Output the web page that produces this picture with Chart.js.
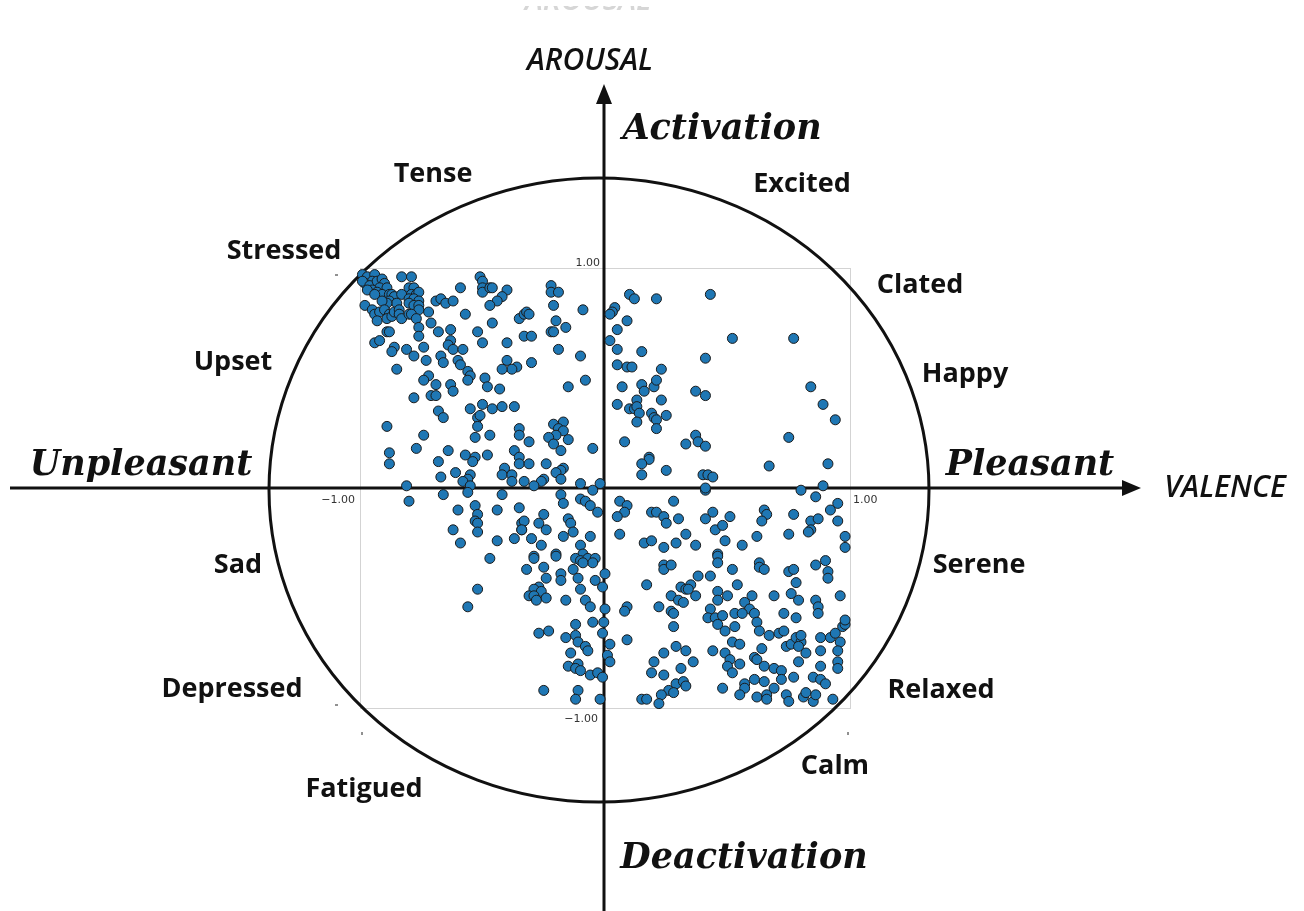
<!DOCTYPE html>
<html>
<head>
<meta charset="utf-8">
<script src="https://cdn.jsdelivr.net/npm/chart.js@4.4.0/dist/chart.umd.min.js"></script>
<style>
  html, body { margin: 0; padding: 0; background: #fff; }
  #wrap { width: 1304px; height: 911px; }
</style>
</head>
<body>
<div id="wrap"><canvas id="chart" width="1304" height="911"></canvas></div>
<script>
// valence / arousal ratings, grouped by quadrant
const upperLeft = [
  [-0.99,0.97],[-0.97,0.96],[-0.94,0.97],[-0.95,0.94],[-0.98,0.93],[-0.99,0.94],[-0.96,0.92],[-0.93,0.94],[-0.91,0.95],[-0.90,0.93],
  [-0.92,0.91],[-0.95,0.90],[-0.97,0.90],[-0.89,0.91],[-0.93,0.89],[-0.91,0.88],[-0.94,0.88],[-0.88,0.88],[-0.87,0.88],[-0.86,0.87],
  [-0.83,0.88],[-0.88,0.85],[-0.85,0.84],[-0.89,0.84],[-0.91,0.85],[-0.98,0.83],[-0.95,0.81],[-0.94,0.79],[-0.92,0.80],[-0.93,0.76],
  [-0.90,0.81],[-0.88,0.79],[-0.89,0.77],[-0.87,0.78],[-0.86,0.80],[-0.84,0.81],[-0.84,0.79],[-0.83,0.77],[-0.80,0.91],[-0.78,0.91],
  [-0.79,0.88],[-0.77,0.88],[-0.76,0.89],[-0.80,0.86],[-0.78,0.86],[-0.76,0.85],[-0.80,0.84],[-0.78,0.83],[-0.76,0.83],[-0.76,0.81],
  [-0.80,0.79],[-0.79,0.79],[-0.77,0.77],[-0.76,0.73],[-0.72,0.80],[-0.71,0.75],[-0.76,0.69],[-0.69,0.85],[-0.67,0.86],[-0.65,0.84],
  [-0.62,0.85],[-0.59,0.91],[-0.57,0.79],[-0.83,0.96],[-0.79,0.96],[-0.51,0.96],[-0.50,0.94],[-0.50,0.91],[-0.50,0.89],[-0.47,0.91],
  [-0.46,0.91],[-0.40,0.90],[-0.42,0.87],[-0.44,0.85],[-0.47,0.83],[-0.35,0.77],[-0.33,0.79],[-0.46,0.75],[-0.52,0.71],[-0.50,0.66],
  [-0.40,0.66],[-0.68,0.71],[-0.63,0.72],[-0.63,0.67],[-0.64,0.65],[-0.62,0.63],[-0.58,0.63],[-0.74,0.64],[-0.81,0.63],[-0.86,0.64],
  [-0.87,0.62],[-0.94,0.66],[-0.92,0.67],[-0.89,0.71],[-0.88,0.71],[-0.78,0.60],[-0.73,0.58],[-0.67,0.60],[-0.66,0.57],[-0.60,0.58],
  [-0.59,0.56],[-0.56,0.53],[-0.55,0.51],[-0.56,0.49],[-0.49,0.50],[-0.48,0.46],[-0.43,0.45],[-0.40,0.58],[-0.36,0.55],[-0.38,0.54],
  [-0.42,0.54],[-0.72,0.51],[-0.74,0.49],[-0.69,0.47],[-0.63,0.47],[-0.62,0.44],[-0.85,0.54],[-0.78,0.41],[-0.71,0.42],[-0.69,0.42],
  [-0.22,0.92],[-0.22,0.89],[-0.19,0.89],[-0.21,0.83],[-0.09,0.81],[-0.32,0.80],[-0.31,0.79],[-0.20,0.76],[-0.16,0.73],[-0.22,0.71],
  [-0.21,0.71],[-0.33,0.69],[-0.30,0.69],[-0.19,0.63],[-0.10,0.60],[-0.30,0.57],[-0.08,0.49],[-0.15,0.46],
  [-0.68,0.35],[-0.66,0.32],[-0.55,0.36],[-0.52,0.32],[-0.51,0.33],[-0.52,0.28],[-0.46,0.36],[-0.50,0.38],[-0.42,0.37],[-0.37,0.37],
  [-0.89,0.28],[-0.74,0.24],[-0.53,0.23],[-0.47,0.24],[-0.35,0.27],[-0.35,0.24],[-0.77,0.18],[-0.64,0.17],[-0.88,0.16],[-0.88,0.11],
  [-0.68,0.12],[-0.57,0.15],[-0.53,0.14],[-0.54,0.12],[-0.48,0.15],[-0.37,0.17],[-0.35,0.14],[-0.35,0.11],[-0.41,0.09],[-0.42,0.06],
  [-0.38,0.06],[-0.38,0.03],[-0.33,0.03],[-0.67,0.05],[-0.61,0.07],[-0.55,0.06],[-0.56,0.04],[-0.58,0.03],[-0.55,0.01],[-0.81,0.01],
  [-0.31,0.21],[-0.21,0.29],[-0.17,0.30],[-0.19,0.27],[-0.17,0.26],[-0.20,0.24],[-0.23,0.23],[-0.15,0.22],[-0.21,0.20],[-0.18,0.17],
  [-0.05,0.18],[-0.31,0.11],[-0.24,0.11],[-0.17,0.09],[-0.18,0.08],[-0.20,0.07],[-0.18,0.04],[-0.25,0.04],[-0.26,0.03],[-0.29,0.01],
  [-0.10,0.02],[-0.02,0.02]
];

const upperRight = [
  [0.10,0.88],[0.12,0.86],[0.21,0.86],[0.04,0.82],[0.03,0.80],[0.02,0.79],[0.09,0.76],[0.05,0.72],[0.02,0.67],[0.05,0.63],
  [0.15,0.62],[0.05,0.56],[0.09,0.55],[0.11,0.55],[0.23,0.54],[0.07,0.46],[0.15,0.47],[0.16,0.44],[0.20,0.46],[0.21,0.49],
  [0.05,0.38],[0.13,0.40],[0.23,0.40],
  [0.43,0.88],[0.52,0.68],[0.77,0.68],[0.41,0.59],[0.37,0.44],[0.41,0.42],[0.84,0.46],[0.89,0.38],
  [0.10,0.36],[0.12,0.36],[0.13,0.37],[0.14,0.34],[0.19,0.34],[0.20,0.32],[0.21,0.31],[0.25,0.33],[0.13,0.30],[0.21,0.27],
  [0.08,0.21],[0.33,0.20],[0.18,0.14],[0.18,0.13],[0.15,0.11],[0.15,0.06],[0.25,0.08],
  [0.94,0.31],[0.37,0.24],[0.38,0.21],[0.41,0.19],[0.75,0.23],[0.67,0.10],[0.91,0.11],[0.40,0.06],[0.42,0.06],[0.44,0.05],
  [0.89,0.01]
];

const lowerLeft = [
  [-0.80,-0.06],[-0.66,-0.03],[-0.56,-0.02],[-0.42,-0.03],[-0.60,-0.10],[-0.53,-0.08],[-0.52,-0.12],[-0.53,-0.15],[-0.52,-0.16],[-0.52,-0.20],
  [-0.44,-0.10],[-0.35,-0.09],[-0.34,-0.16],[-0.34,-0.19],[-0.62,-0.19],[-0.59,-0.25],[-0.44,-0.24],[-0.37,-0.23],[-0.47,-0.32],
  [-0.05,-0.01],[-0.18,-0.03],[-0.17,-0.07],[-0.10,-0.05],[-0.08,-0.06],[-0.06,-0.08],[-0.03,-0.11],[-0.33,-0.15],[-0.34,-0.19],[-0.25,-0.12],
  [-0.27,-0.16],[-0.24,-0.19],[-0.15,-0.14],[-0.14,-0.16],[-0.13,-0.20],[-0.30,-0.23],[-0.17,-0.22],[-0.06,-0.22],[-0.26,-0.26],[-0.20,-0.30],
  [-0.29,-0.31],[-0.10,-0.26],[-0.09,-0.30],
  [-0.52,-0.46],[-0.56,-0.54],
  [-0.29,-0.32],[-0.20,-0.31],[-0.12,-0.32],[-0.10,-0.33],[-0.07,-0.32],[-0.04,-0.32],[-0.05,-0.34],[-0.09,-0.34],[-0.32,-0.37],[-0.25,-0.36],
  [-0.18,-0.39],[-0.18,-0.42],[-0.13,-0.37],[-0.11,-0.41],[-0.24,-0.41],[-0.04,-0.42],[-0.01,-0.45],[-0.27,-0.45],[-0.29,-0.46],[-0.26,-0.47],
  [-0.31,-0.49],[-0.29,-0.49],[-0.28,-0.51],[-0.24,-0.50],[-0.16,-0.51],[-0.10,-0.46],[-0.08,-0.51],[-0.06,-0.54],[-0.12,-0.62],[-0.05,-0.61],
  [-0.27,-0.66],[-0.23,-0.65],[-0.16,-0.68],[-0.12,-0.67],[-0.11,-0.70],[-0.08,-0.72],[-0.07,-0.74],[-0.14,-0.75],[-0.11,-0.80],[-0.15,-0.81],
  [-0.12,-0.82],[-0.10,-0.83],[-0.06,-0.85],[-0.03,-0.84],[-0.01,-0.86],[-0.25,-0.92],[-0.11,-0.92],[-0.12,-0.96],[-0.02,-0.96],[-0.01,-0.66],
  [-0.005,-0.61]
];

const lowerRight = [
  [0.06,-0.06],[0.09,-0.08],[0.08,-0.11],[0.05,-0.13],[0.19,-0.11],[0.21,-0.11],[0.24,-0.13],[0.25,-0.16],[0.28,-0.06],[0.30,-0.14],
  [0.33,-0.21],[0.06,-0.21],[0.16,-0.25],[0.19,-0.24],[0.24,-0.27],[0.29,-0.25],
  [0.41,-0.01],[0.41,0.00],[0.80,-0.01],[0.86,-0.04],[0.95,-0.07],[0.92,-0.10],[0.65,-0.10],[0.66,-0.12],[0.64,-0.15],[0.77,-0.12],
  [0.84,-0.15],[0.87,-0.14],[0.95,-0.15],[0.44,-0.11],[0.41,-0.14],[0.51,-0.13],[0.45,-0.19],[0.48,-0.17],[0.84,-0.19],[0.83,-0.20],
  [0.75,-0.21],[0.98,-0.22],[0.98,-0.27],[0.62,-0.22],[0.49,-0.24],[0.56,-0.26],[0.37,-0.26],[0.46,-0.30],
  [0.00,-0.39],[0.00,-0.55],[0.01,-0.76],[0.02,-0.79],[0.02,-0.71],
  [0.09,-0.54],[0.08,-0.56],[0.09,-0.69],[0.17,-0.44],[0.24,-0.35],[0.24,-0.37],[0.27,-0.35],[0.22,-0.54],[0.31,-0.45],[0.33,-0.46],
  [0.27,-0.49],[0.30,-0.51],[0.32,-0.52],[0.27,-0.56],[0.28,-0.57],[0.28,-0.63],[0.29,-0.72],[0.33,-0.74],[0.24,-0.75],[0.20,-0.79],
  [0.31,-0.82],[0.19,-0.84],[0.24,-0.85],[0.29,-0.89],[0.32,-0.88],[0.33,-0.90],[0.26,-0.92],[0.28,-0.93],[0.23,-0.94],[0.22,-0.98],
  [0.15,-0.96],[0.17,-0.96],
  [0.46,-0.31],[0.46,-0.34],[0.52,-0.37],[0.63,-0.34],[0.63,-0.36],[0.65,-0.37],[0.75,-0.38],[0.77,-0.37],[0.86,-0.35],[0.90,-0.33],
  [0.91,-0.38],[0.91,-0.41],[0.38,-0.40],[0.43,-0.40],[0.54,-0.44],[0.78,-0.43],[0.35,-0.44],[0.34,-0.46],[0.37,-0.49],[0.46,-0.47],
  [0.46,-0.51],[0.50,-0.49],[0.60,-0.49],[0.69,-0.49],[0.76,-0.48],[0.79,-0.51],[0.86,-0.51],[0.87,-0.54],[0.87,-0.57],[0.96,-0.49],
  [0.57,-0.52],[0.59,-0.55],[0.43,-0.55],[0.53,-0.57],[0.56,-0.57],[0.61,-0.57],[0.42,-0.59],[0.45,-0.59],[0.48,-0.58],[0.46,-0.62],
  [0.49,-0.65],[0.62,-0.61],[0.63,-0.65],[0.53,-0.63],[0.73,-0.57],[0.78,-0.59],[0.67,-0.67],[0.71,-0.66],[0.73,-0.65],[0.52,-0.70],
  [0.55,-0.71],[0.74,-0.72],[0.76,-0.71],[0.78,-0.68],[0.80,-0.70],[0.80,-0.67],[0.79,-0.72],[0.82,-0.75],[0.88,-0.68],[0.92,-0.68],
  [0.94,-0.66],[0.96,-0.70],[0.97,-0.63],[0.98,-0.62],[0.98,-0.60],[0.88,-0.74],[0.95,-0.74],[0.36,-0.79],[0.44,-0.74],[0.49,-0.75],
  [0.51,-0.78],[0.50,-0.81],[0.52,-0.84],[0.55,-0.80],[0.61,-0.77],[0.62,-0.78],[0.64,-0.73],[0.65,-0.81],[0.69,-0.82],[0.72,-0.83],
  [0.72,-0.87],[0.79,-0.79],[0.77,-0.86],[0.88,-0.81],[0.95,-0.79],[0.95,-0.82],[0.85,-0.86],[0.88,-0.87],[0.90,-0.89],[0.65,-0.88],
  [0.69,-0.91],[0.61,-0.87],[0.57,-0.89],[0.57,-0.91],[0.55,-0.94],[0.62,-0.95],[0.66,-0.94],[0.66,-0.96],[0.74,-0.94],[0.75,-0.97],
  [0.81,-0.95],[0.82,-0.93],[0.85,-0.97],[0.86,-0.94],[0.93,-0.96],[0.48,-0.91]
];

// axis range and tick labels
const axisMin = -1;
const axisMax = 1;
const tickValues = [-1, 1];

// emotion words around the circle
const moodWords = ['Tense', 'Excited', 'Stressed', 'Clated', 'Upset', 'Happy',
                   'Sad', 'Serene', 'Depressed', 'Relaxed', 'Fatigued', 'Calm'];
const poleWords = ['Activation', 'Deactivation', 'Unpleasant', 'Pleasant'];
const axisNames = ['AROUSAL', 'VALENCE'];

// where each word sits (canvas px, centre x / baseline y)
const moodPos = [[433,182],[802,192],[284,259],[920,293],[233,370],[965,382],
                 [238,573],[979,573],[232,697],[941,698],[364,797],[835,774]];
const polePos = [[722,139],[744,868],[141,475],[1030,475]];
const axisNamePos = [[590,70],[1225,497]];

const points = [...upperLeft, ...upperRight, ...lowerLeft, ...lowerRight]
  .map(([v, a]) => ({ x: v, y: a }));

const fmt = v => (v < 0 ? '\u2212' : '') + Math.abs(v).toFixed(2);

// frame, circle, arrows and words drawn round the scatter
const circumplex = {
  id: 'circumplex',
  beforeDatasetsDraw(chart) {
    const { ctx, scales: { x, y } } = chart;
    const x0 = x.getPixelForValue(axisMin), x1 = x.getPixelForValue(axisMax);
    const y0 = y.getPixelForValue(axisMax), y1 = y.getPixelForValue(axisMin);
    const cx = x.getPixelForValue(0), cy = y.getPixelForValue(0);
    ctx.save();

    // light frame of the scatter
    ctx.strokeStyle = '#d3d3d3';
    ctx.lineWidth = 1;
    ctx.strokeRect(Math.round(x0) + 0.5, Math.round(y0) + 0.5, Math.round(x1 - x0), Math.round(y1 - y0));

    // tiny tick marks of the outer axes
    ctx.strokeStyle = '#222';
    ctx.beginPath();
    ctx.moveTo(x0 + 2, y1 + 24); ctx.lineTo(x0 + 2, y1 + 27);
    ctx.moveTo(x1 - 2, y1 + 24); ctx.lineTo(x1 - 2, y1 + 27);
    ctx.moveTo(x0 - 25, y0 + 7); ctx.lineTo(x0 - 22, y0 + 7);
    ctx.moveTo(x0 - 25, y1 - 3); ctx.lineTo(x0 - 22, y1 - 3);
    ctx.stroke();

    // ellipse
    ctx.strokeStyle = '#111';
    ctx.lineWidth = 3;
    ctx.beginPath();
    ctx.ellipse(cx - 6, cy + 2, 330, 312, 0, 0, Math.PI * 2);
    ctx.stroke();

    // valence and arousal axes + arrows
    ctx.beginPath();
    ctx.moveTo(10, cy); ctx.lineTo(1126, cy);
    ctx.moveTo(cx - 1, 911); ctx.lineTo(cx - 1, 100);
    ctx.stroke();
    ctx.fillStyle = '#111';
    ctx.beginPath();
    ctx.moveTo(1122, cy - 8); ctx.lineTo(1141, cy); ctx.lineTo(1122, cy + 8); ctx.closePath();
    ctx.moveTo(cx - 9, 104); ctx.lineTo(cx - 1, 84); ctx.lineTo(cx + 7, 104); ctx.closePath();
    ctx.fill();

    // tick labels next to the centre axes
    ctx.fillStyle = '#333';
    ctx.font = '11px "DejaVu Sans"';
    ctx.textBaseline = 'alphabetic';
    ctx.textAlign = 'right';
    ctx.fillText(fmt(tickValues[0]), x.getPixelForValue(tickValues[0]) - 5, cy + 15);
    ctx.fillText(fmt(tickValues[1]), cx - 5, y.getPixelForValue(tickValues[1]) - 2);
    ctx.fillText(fmt(tickValues[0]), cx - 7, y.getPixelForValue(tickValues[0]) + 14);
    ctx.textAlign = 'left';
    ctx.fillText(fmt(tickValues[1]), x.getPixelForValue(tickValues[1]) + 3, cy + 15);
    ctx.restore();
  },
  afterDatasetsDraw(chart) {
    const { ctx } = chart;
    ctx.save();
    ctx.textAlign = 'center';
    ctx.textBaseline = 'alphabetic';
    ctx.fillStyle = '#111';

    ctx.font = 'bold 27px "Open Sans"';
    moodWords.forEach((w, i) => ctx.fillText(w, moodPos[i][0], moodPos[i][1]));

    ctx.font = 'italic bold 35px "DejaVu Serif"';
    const poleWidth = [202, 250, 224, 172];
    poleWords.forEach((w, i) => ctx.fillText(w, polePos[i][0], polePos[i][1], poleWidth[i]));

    ctx.font = 'italic 600 30px "Open Sans"';
    axisNames.forEach((w, i) => ctx.fillText(w, axisNamePos[i][0], axisNamePos[i][1]));

    // clipped remains of a title at the very top
    ctx.beginPath();
    ctx.rect(0, 6, 1304, 4);
    ctx.clip();
    ctx.fillStyle = '#d6d6d6';
    ctx.fillText(axisNames[0], 588, 10);
    ctx.restore();
  }
};

new Chart(document.getElementById('chart'), {
  type: 'scatter',
  data: {
    datasets: [{
      label: 'ratings',
      data: points,
      pointRadius: 5,
      pointHoverRadius: 5,
      backgroundColor: '#1f77b4',
      borderColor: '#1a1a1a',
      borderWidth: 1,
      clip: false
    }]
  },
  options: {
    responsive: false,
    animation: false,
    events: [],
    layout: { padding: { left: 360, right: 454, top: 268, bottom: 203 } },
    plugins: { legend: { display: false }, tooltip: { enabled: false } },
    scales: {
      x: { type: 'linear', min: axisMin, max: axisMax, display: false },
      y: { type: 'linear', min: axisMin, max: axisMax, display: false }
    }
  },
  plugins: [circumplex]
});
</script>
</body>
</html>
